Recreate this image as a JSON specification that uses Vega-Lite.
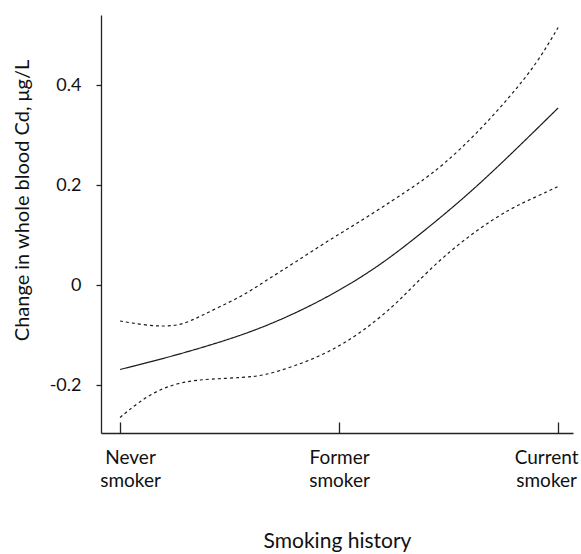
{
  "$schema": "https://vega.github.io/schema/vega-lite/v6.json",
  "width": 472,
  "height": 418,
  "autosize": "none",
  "padding": {"left": 101, "top": 15, "right": 8, "bottom": 121},
  "background": "white",
  "data": {
    "values": [
      {"x": 0, "series": "upper", "y": -0.072},
      {"x": 0.106, "series": "upper", "y": -0.080},
      {"x": 0.198, "series": "upper", "y": -0.083},
      {"x": 0.282, "series": "upper", "y": -0.080},
      {"x": 0.365, "series": "upper", "y": -0.063},
      {"x": 0.457, "series": "upper", "y": -0.043},
      {"x": 0.563, "series": "upper", "y": -0.021},
      {"x": 0.670, "series": "upper", "y": 0.010},
      {"x": 0.791, "series": "upper", "y": 0.043},
      {"x": 0.944, "series": "upper", "y": 0.087},
      {"x": 1.096, "series": "upper", "y": 0.127},
      {"x": 1.248, "series": "upper", "y": 0.170},
      {"x": 1.362, "series": "upper", "y": 0.203},
      {"x": 1.476, "series": "upper", "y": 0.240},
      {"x": 1.629, "series": "upper", "y": 0.303},
      {"x": 1.781, "series": "upper", "y": 0.377},
      {"x": 1.903, "series": "upper", "y": 0.443},
      {"x": 2, "series": "upper", "y": 0.515},
      {"x": 0, "series": "estimate", "y": -0.169},
      {"x": 0.2, "series": "estimate", "y": -0.147},
      {"x": 0.4, "series": "estimate", "y": -0.122},
      {"x": 0.6, "series": "estimate", "y": -0.094},
      {"x": 0.8, "series": "estimate", "y": -0.057},
      {"x": 1.0, "series": "estimate", "y": -0.012},
      {"x": 1.2, "series": "estimate", "y": 0.043},
      {"x": 1.4, "series": "estimate", "y": 0.112},
      {"x": 1.6, "series": "estimate", "y": 0.185},
      {"x": 1.8, "series": "estimate", "y": 0.268},
      {"x": 2, "series": "estimate", "y": 0.354},
      {"x": 0, "series": "lower", "y": -0.265},
      {"x": 0.076, "series": "lower", "y": -0.237},
      {"x": 0.183, "series": "lower", "y": -0.207},
      {"x": 0.305, "series": "lower", "y": -0.192},
      {"x": 0.411, "series": "lower", "y": -0.188},
      {"x": 0.563, "series": "lower", "y": -0.185},
      {"x": 0.660, "series": "lower", "y": -0.181},
      {"x": 0.791, "series": "lower", "y": -0.163},
      {"x": 0.944, "series": "lower", "y": -0.137},
      {"x": 1.096, "series": "lower", "y": -0.097},
      {"x": 1.248, "series": "lower", "y": -0.043},
      {"x": 1.343, "series": "lower", "y": 0.000},
      {"x": 1.476, "series": "lower", "y": 0.057},
      {"x": 1.629, "series": "lower", "y": 0.110},
      {"x": 1.781, "series": "lower", "y": 0.153},
      {"x": 1.903, "series": "lower", "y": 0.177},
      {"x": 2, "series": "lower", "y": 0.197}
    ]
  },
  "mark": {"type": "line", "interpolate": "basis", "color": "#1a1a1a", "strokeWidth": 1.2},
  "encoding": {
    "x": {
      "field": "x",
      "type": "quantitative",
      "scale": {"domain": [-0.087, 2.068], "nice": false, "zero": false},
      "axis": {
        "values": [0, 1, 2],
        "tickSize": -11,
        "labelPadding": 26,
        "labelBaseline": "top",
        "labelFontSize": 19,
        "labelLineHeight": 23,
        "labelExpr": "[['Never', 'smoker'], ['Former', 'smoker'], ['Current', 'smoker']][datum.value]",
        "labelOffset": {"expr": "datum.value == 0 ? 10 : (datum.value == 2 ? -12 : 0)"},
        "title": "Smoking history",
        "titleFontSize": 21,
        "titleBaseline": "alphabetic",
        "titleY": 114
      }
    },
    "y": {
      "field": "y",
      "type": "quantitative",
      "scale": {"domain": [-0.296, 0.54], "nice": false, "zero": false},
      "axis": {
        "values": [-0.2, 0, 0.2, 0.4],
        "tickSize": 5,
        "labelPadding": 15,
        "labelFontSize": 18,
        "labelExpr": "datum.value == 0 ? '0' : (datum.value < 0 ? '-' : '') + format(abs(datum.value), '.1f')",
        "title": "Change in whole blood Cd, μg/L",
        "titleFontSize": 20,
        "titleX": -79,
        "titleY": 185,
        "titleAlign": "center",
        "titleBaseline": "middle"
      }
    },
    "detail": {"field": "series"},
    "strokeDash": {
      "field": "series",
      "type": "nominal",
      "scale": {"domain": ["estimate", "upper", "lower"], "range": [[1, 0], [3, 3], [3, 3]]},
      "legend": null
    }
  },
  "config": {
    "view": {"stroke": null},
    "font": "Lato",
    "axis": {
      "grid": false,
      "domainColor": "#222",
      "domainWidth": 1.3,
      "tickColor": "#222",
      "tickWidth": 1.3,
      "labelColor": "#111",
      "titleColor": "#111",
      "labelFont": "Lato",
      "titleFont": "Lato",
      "titleFontWeight": "normal"
    }
  }
}
